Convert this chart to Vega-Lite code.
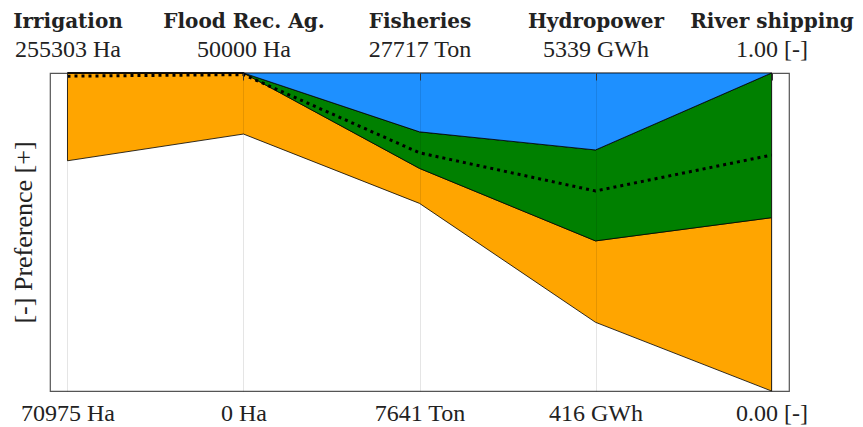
{
  "$schema": "https://vega.github.io/schema/vega-lite/v6.json",
  "width": 739,
  "height": 318,
  "autosize": {"type": "none"},
  "padding": {"left": 50, "top": 73, "right": 74, "bottom": 36},
  "background": "white",
  "config": {
    "view": {"stroke": "#555", "strokeWidth": 1.2},
    "font": "Liberation Serif, Times New Roman, serif"
  },
  "data": {
    "values": [
      {"crit": "Irrigation", "top": "255303 Ha", "bottom": "70975 Ha", "wo": 0.724, "og": 1.0, "gb": 1.0, "pref": 0.99},
      {"crit": "Flood Rec. Ag.", "top": "50000 Ha", "bottom": "0 Ha", "wo": 0.808, "og": 1.0, "gb": 1.0, "pref": 0.995},
      {"crit": "Fisheries", "top": "27717 Ton", "bottom": "7641 Ton", "wo": 0.59, "og": 0.7, "gb": 0.815, "pref": 0.749},
      {"crit": "Hydropower", "top": "5339 GWh", "bottom": "416 GWh", "wo": 0.216, "og": 0.472, "gb": 0.758, "pref": 0.629},
      {"crit": "River shipping", "top": "1.00 [-]", "bottom": "0.00 [-]", "wo": 0.0, "og": 0.545, "gb": 1.0, "pref": 0.742}
    ]
  },
  "resolve": {"scale": {"x": "independent"}, "axis": {"x": "independent"}},
  "layer": [
    {
      "mark": {"type": "area", "color": "#ffa500", "stroke": "black", "strokeWidth": 0.8},
      "encoding": {
        "x": {
          "field": "bottom", "type": "ordinal", "sort": null,
          "scale": {"type": "point", "padding": 0.0994},
          "axis": {
            "orient": "bottom", "title": null, "labelAngle": 0, "labelFontSize": 24,
            "labelFont": "Liberation Serif, Times New Roman, serif",
            "labelColor": "#222", "labelBaseline": "alphabetic", "labelPadding": 29,
            "ticks": false, "domain": false, "grid": true, "gridColor": "#000",
            "gridOpacity": 0.1, "gridWidth": 1, "zindex": 1
          }
        },
        "y": {
          "field": "wo", "type": "quantitative",
          "scale": {"domain": [0, 1], "nice": false, "zero": false},
          "axis": {
            "title": "[-] Preference [+]", "labels": false, "ticks": false, "domain": false,
            "grid": false, "titleFontSize": 26, "titleFontWeight": "normal",
            "titleFont": "Liberation Serif, Times New Roman, serif",
            "titleColor": "#222", "titlePadding": 14
          }
        },
        "y2": {"field": "og"}
      }
    },
    {
      "mark": {"type": "area", "color": "#008000", "stroke": "black", "strokeWidth": 0.8},
      "encoding": {
        "x": {
          "field": "bottom", "type": "ordinal", "sort": null,
          "scale": {"type": "point", "padding": 0.0994}, "axis": null
        },
        "y": {
          "field": "og", "type": "quantitative",
          "scale": {"domain": [0, 1], "nice": false, "zero": false},
          "axis": {"title": "[-] Preference [+]"}
        },
        "y2": {"field": "gb"}
      }
    },
    {
      "mark": {"type": "area", "color": "#1e90ff", "stroke": "black", "strokeWidth": 0.8},
      "encoding": {
        "x": {
          "field": "top", "type": "ordinal", "sort": null,
          "scale": {"type": "point", "padding": 0.0994},
          "axis": {
            "orient": "top", "title": null, "labelAngle": 0, "labelFontSize": 24,
            "labelFont": "Liberation Serif, Times New Roman, serif",
            "labelColor": "#222", "labelBaseline": "alphabetic", "labelPadding": 24,
            "ticks": true, "tickSize": -7, "tickColor": "#333", "tickWidth": 1,
            "domain": false, "grid": false, "zindex": 1
          }
        },
        "y": {
          "field": "gb", "type": "quantitative",
          "scale": {"domain": [0, 1], "nice": false, "zero": false},
          "axis": {"title": "[-] Preference [+]"}
        },
        "y2": {"datum": 1}
      }
    },
    {
      "mark": {"type": "line", "color": "black", "strokeWidth": 3, "strokeDash": [3, 4]},
      "encoding": {
        "x": {
          "field": "crit", "type": "ordinal", "sort": null,
          "scale": {"type": "point", "padding": 0.0994},
          "axis": {
            "orient": "top", "title": null, "labelAngle": 0, "labelFontSize": 20,
            "labelFont": "DejaVu Serif",
            "labelFontWeight": "bold", "labelColor": "#222", "labelBaseline": "alphabetic",
            "labelPadding": 46, "ticks": false, "domain": false, "grid": false
          }
        },
        "y": {
          "field": "pref", "type": "quantitative",
          "scale": {"domain": [0, 1], "nice": false, "zero": false},
          "axis": {"title": "[-] Preference [+]"}
        }
      }
    }
  ]
}
